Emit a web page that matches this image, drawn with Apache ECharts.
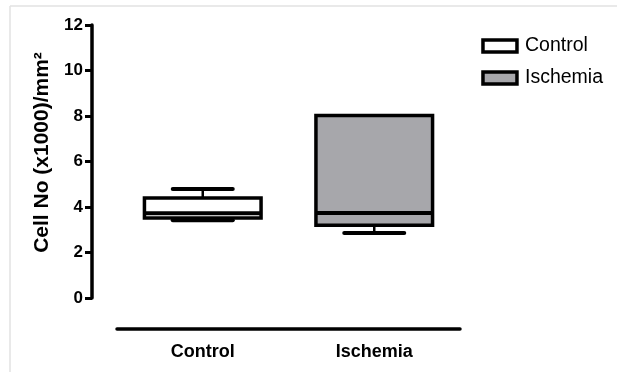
<!DOCTYPE html>
<html>
<head>
<meta charset="utf-8">
<script src="https://cdn.jsdelivr.net/npm/echarts@6/dist/echarts.min.js"></script>
<style>
  html, body { margin: 0; padding: 0; background: #fff; }
  #chart { width: 617px; height: 372px; }
</style>
</head>
<body>
<div id="chart"></div>
<script>
// Groups on the x axis
const categories = ['Control', 'Ischemia'];
// Box summaries per group: [min, Q1, median, Q3, max] (cells x1000 per mm²)
const controlBox = [3.42, 3.52, 3.72, 4.40, 4.79];
const ischemiaBox = [2.86, 3.20, 3.74, 8.02, 8.02];
// Y axis ticks
const yTicks = [0, 2, 4, 6, 8, 10, 12];

const chart = echarts.init(document.getElementById('chart'));

// Draws one box-and-whisker from [catIndex, min, q1, med, q3, max]
function renderBox(params, api) {
  const idx = api.value(0);
  const vals = [1, 2, 3, 4, 5].map(i => api.value(i));
  const band = api.size([1, 0])[0];
  const half = band * 0.34;
  const capHalf = band * 0.175;
  const pMin = api.coord([idx, vals[0]]);
  const pQ1 = api.coord([idx, vals[1]]);
  const pMed = api.coord([idx, vals[2]]);
  const pQ3 = api.coord([idx, vals[3]]);
  const pMax = api.coord([idx, vals[4]]);
  const cx = pMed[0];
  const children = [
    { type: 'line', shape: { x1: cx, y1: pQ1[1], x2: cx, y2: pMin[1] }, style: { stroke: '#000', lineWidth: 2.5 } },
    { type: 'line', shape: { x1: cx - capHalf, y1: pMin[1], x2: cx + capHalf, y2: pMin[1] }, style: { stroke: '#000', lineWidth: 4, lineCap: 'round' } },
    { type: 'rect', shape: { x: cx - half, y: pQ3[1], width: half * 2, height: pQ1[1] - pQ3[1] },
      style: { fill: api.visual('color'), stroke: '#000', lineWidth: 3.5 } },
    { type: 'line', shape: { x1: cx - half, y1: pMed[1], x2: cx + half, y2: pMed[1] }, style: { stroke: '#000', lineWidth: 4 } }
  ];
  if (pMax[1] < pQ3[1] - 1) {
    children.push(
      { type: 'line', shape: { x1: cx, y1: pQ3[1], x2: cx, y2: pMax[1] }, style: { stroke: '#000', lineWidth: 2.5 } },
      { type: 'line', shape: { x1: cx - capHalf, y1: pMax[1], x2: cx + capHalf, y2: pMax[1] }, style: { stroke: '#000', lineWidth: 4, lineCap: 'round' } }
    );
  }
  return { type: 'group', children };
}

const option = {
  backgroundColor: '#fff',
  animation: false,
  textStyle: { fontFamily: 'Liberation Sans, Arial, sans-serif' },
  grid: { left: 117, right: 157, top: 25, bottom: 74 },
  legend: {
    right: 9, top: 31,
    orient: 'vertical',
    itemWidth: 34, itemHeight: 12, itemGap: 12,
    icon: 'rect',
    textStyle: { fontSize: 19.5, color: '#000', fontFamily: 'Liberation Sans, Arial, sans-serif', padding: [0, 0, 0, 3] },
    data: [
      { name: 'Control', itemStyle: { color: '#ffffff', borderColor: '#000', borderWidth: 3.5 } },
      { name: 'Ischemia', itemStyle: { color: '#a7a7ab', borderColor: '#000', borderWidth: 3.5 } }
    ]
  },
  xAxis: {
    type: 'category',
    data: categories,
    offset: 31,
    axisLine: { onZero: false, lineStyle: { color: '#000', width: 3.5 } },
    axisTick: { show: false },
    axisLabel: { color: '#000', fontSize: 18, fontWeight: 'bold', margin: 14 },
    splitLine: { show: false }
  },
  yAxis: {
    type: 'value',
    min: yTicks[0], max: yTicks[yTicks.length - 1], interval: 2,
    offset: 25,
    name: 'Cell No (x1000)/mm²',
    nameLocation: 'middle',
    nameGap: 38,
    nameTextStyle: { color: '#000', fontSize: 21, fontWeight: 'bold', padding: [0, 0, 0, 18] },
    axisLine: { show: true, onZero: false, lineStyle: { color: '#000', width: 3.5 } },
    axisTick: { show: true, length: 7, lineStyle: { color: '#000', width: 3 } },
    axisLabel: { color: '#000', fontSize: 17, fontWeight: 'bold', margin: 9 },
    splitLine: { show: false }
  },
  series: [
    {
      name: 'Control', type: 'custom', renderItem: renderBox,
      itemStyle: { color: '#ffffff' },
      encode: { x: 0, y: [1, 2, 3, 4, 5] },
      data: [[0].concat(controlBox)]
    },
    {
      name: 'Ischemia', type: 'custom', renderItem: renderBox,
      itemStyle: { color: '#a7a7ab' },
      encode: { x: 0, y: [1, 2, 3, 4, 5] },
      data: [[1].concat(ischemiaBox)]
    }
  ],
  graphic: [
    { type: 'line', shape: { x1: 10, y1: 6, x2: 617, y2: 6 }, style: { stroke: '#e2e2e2', lineWidth: 1.5 }, silent: true },
    { type: 'line', shape: { x1: 10, y1: 6, x2: 10, y2: 372 }, style: { stroke: '#e2e2e2', lineWidth: 1.5 }, silent: true }
  ]
};

chart.setOption(option);
</script>
</body>
</html>
